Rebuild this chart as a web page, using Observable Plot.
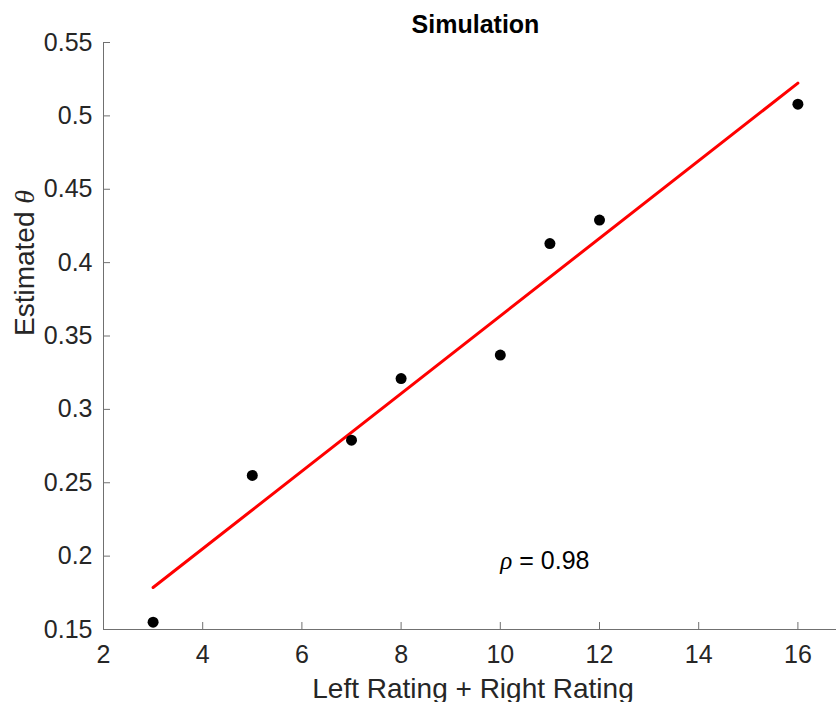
<!DOCTYPE html>
<html><head><meta charset="utf-8">
<script src="https://cdn.jsdelivr.net/npm/d3@7"></script>
<script src="https://cdn.jsdelivr.net/npm/@observablehq/plot@0.6"></script>
<style>
html,body{margin:0;padding:0;background:#fff;overflow:hidden;}
#chart{width:836px;height:702px;overflow:hidden;}
#chart svg{max-width:none !important;width:848px;height:702px;}
</style></head><body><div id="chart"></div>
<script>
// Data
const ratingSum = [3, 5, 7, 8, 10, 11, 12, 16];
const estimatedTheta = [0.155, 0.255, 0.279, 0.321, 0.337, 0.413, 0.429, 0.508];
const fitX = [3, 16];
const fitY = [0.1786, 0.5223];
const xTicks = [2, 4, 6, 8, 10, 12, 14, 16];
const yTicks = [0.15, 0.2, 0.25, 0.3, 0.35, 0.4, 0.45, 0.5, 0.55];
const yTickLabels = ["0.15", "0.2", "0.25", "0.3", "0.35", "0.4", "0.45", "0.5", "0.55"];
const titleText = "Simulation";
const xLabel = "Left Rating + Right Rating";
const yLabel = "Estimated θ";
const annotationText = "ρ = 0.98";
const annotationX = 10;
const annotationY = 0.2;

const points = ratingSum.map((x, i) => ({x, y: estimatedTheta[i]}));
const fit = fitX.map((x, i) => ({x, y: fitY[i]}));
const yLabelMap = new Map(yTicks.map((t, i) => [t, yTickLabels[i]]));

const axisColor = "#707070";
const textColor = "#262626";
const font = "'Liberation Sans', Arial, Helvetica, sans-serif";

const chart = Plot.plot({
  width: 848,
  height: 702,
  marginLeft: 103,
  marginRight: 1,
  marginTop: 42,
  marginBottom: 73,
  style: {fontFamily: font, fontSize: "25px", color: textColor, background: "white", overflow: "visible", maxWidth: "none"},
  x: {domain: [2, 17]},
  y: {domain: [0.15, 0.55]},
  marks: [
    Plot.ruleX([2], {stroke: axisColor, strokeWidth: 1}),
    Plot.ruleY([0.15], {stroke: axisColor, strokeWidth: 1}),
    Plot.axisX({ticks: xTicks, tickSize: -7, tickPadding: 23, fontSize: 25, label: null, stroke: axisColor, fill: textColor, tickFormat: d => String(d)}),
    Plot.axisY({ticks: yTicks, tickSize: -7, tickPadding: 18, fontSize: 25, label: null, stroke: axisColor, fill: textColor, tickFormat: d => yLabelMap.get(d)}),
    Plot.line(fit, {x: "x", y: "y", stroke: "#ff0000", strokeWidth: 3}),
    Plot.dot(points, {x: "x", y: "y", r: 5.5, fill: "#000", stroke: null}),
    Plot.text([annotationText], {x: annotationX, y: annotationY, text: d => d, textAnchor: "start", lineAnchor: "middle", dy: 5, fontSize: 25, fill: "#000"}),
    Plot.text([titleText], {text: d => d, frameAnchor: "top", lineAnchor: "bottom", dy: -10, fontSize: 25, fontWeight: "bold", fill: "#000"}),
    Plot.text([xLabel], {text: d => d, frameAnchor: "bottom", lineAnchor: "bottom", dy: 68, dx: -2.5, fontSize: 28, fill: textColor}),
    Plot.text([yLabel], {text: d => d, frameAnchor: "left", lineAnchor: "bottom", rotate: -90, dx: -70, fontSize: 28, fill: textColor})
  ]
});

// Render Greek letters in italic, as in the TeX-interpreted reference
d3.select(chart).selectAll("text").each(function () {
  const el = d3.select(this);
  const s = this.textContent;
  if (!/[θρ]/.test(s) || this.querySelector("tspan")) return;
  el.text("");
  for (const part of s.split(/([θρ])/)) {
    if (!part) continue;
    const t = el.append("tspan").text(part);
    if (/[θρ]/.test(part)) t.attr("font-style", "italic").attr("font-family", "'Liberation Serif', 'DejaVu Serif', serif");
  }
});

document.getElementById("chart").append(chart);
</script>
</body></html>
